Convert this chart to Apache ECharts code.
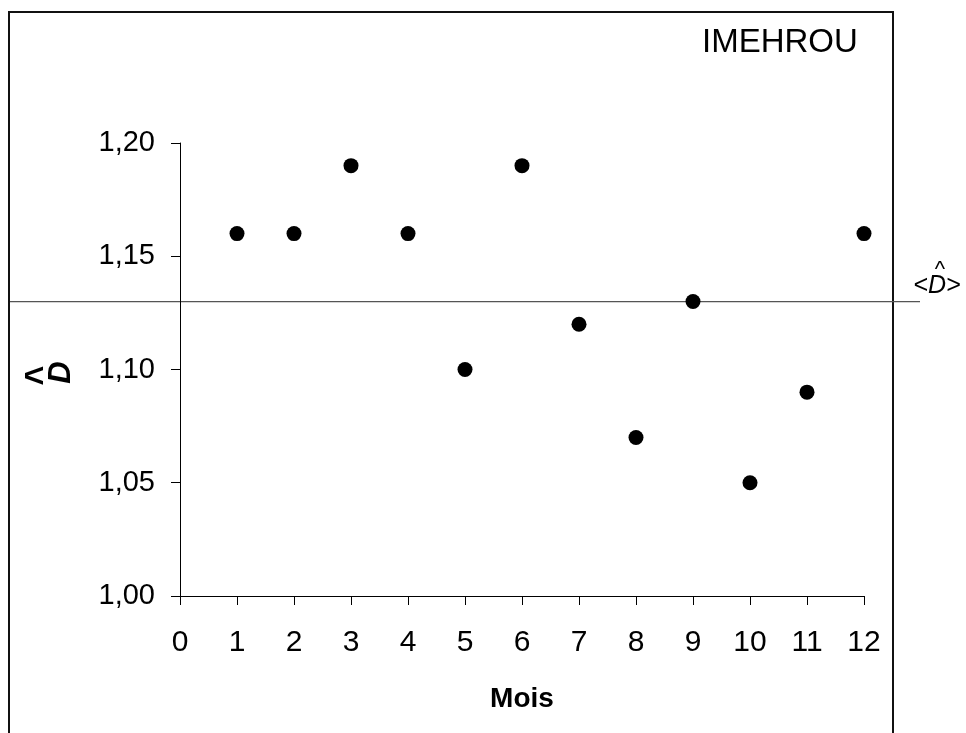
<!DOCTYPE html>
<html>
<head>
<meta charset="utf-8">
<script src="https://cdn.jsdelivr.net/npm/echarts@6/dist/echarts.min.js"></script>
<style>
  html, body { margin: 0; padding: 0; background: #fff; }
  #chart { width: 966px; height: 733px; }
</style>
</head>
<body>
<div id="chart"></div>
<script>
// monthly estimates of D-hat for station IMEHROU
const months = [1, 2, 3, 4, 5, 6, 7, 8, 9, 10, 11, 12]
const dValues = [1.16, 1.16, 1.19, 1.16, 1.10, 1.19, 1.12, 1.07, 1.13, 1.05, 1.09, 1.16]
const meanD = 1.13
const yTicks = [1.00, 1.05, 1.10, 1.15, 1.20]
const xTicks = [0, 12]

const FONT = '"Liberation Sans", Arial, sans-serif'
const chart = echarts.init(document.getElementById('chart'))

function commaLabel(v) {
  return Number(v).toFixed(2).replace('.', ',')
}

chart.setOption({
  animation: false,
  backgroundColor: '#fff',
  title: {
    text: 'IMEHROU',
    left: 697,
    top: 21,
    textStyle: { fontFamily: FONT, fontSize: 33, fontWeight: 'normal', color: '#000' }
  },
  grid: { left: 180, right: 102, top: 143, bottom: 137, containLabel: false },
  xAxis: {
    type: 'value',
    min: xTicks[0],
    max: xTicks[1],
    interval: 1,
    name: 'Mois',
    nameLocation: 'middle',
    nameGap: 89,
    nameTextStyle: { fontFamily: FONT, fontSize: 28, fontWeight: 'bold', color: '#000' },
    axisLine: { lineStyle: { color: '#000', width: 1 } },
    axisTick: { length: 9, lineStyle: { color: '#000' } },
    axisLabel: { fontFamily: FONT, fontSize: 30, color: '#000', margin: 32 },
    splitLine: { show: false }
  },
  yAxis: {
    type: 'value',
    min: yTicks[0],
    max: yTicks[yTicks.length - 1],
    interval: 0.05,
    axisLine: { show: true, lineStyle: { color: '#000', width: 1 } },
    axisTick: { show: true, length: 9, lineStyle: { color: '#000' } },
    axisLabel: { fontFamily: FONT, fontSize: 29, color: '#000', margin: 25, formatter: commaLabel },
    splitLine: { show: false }
  },
  series: [
    {
      type: 'scatter',
      data: months.map((m, i) => [m, dValues[i]]),
      symbol: 'circle',
      symbolSize: 15,
      itemStyle: { color: '#000', opacity: 1 },
      clip: false
    }
  ]
})

// mean line and labels placed through the axis scales
const yMean = chart.convertToPixel({ yAxisIndex: 0 }, meanD)
const yMid = chart.convertToPixel({ yAxisIndex: 0 }, 1.10)

chart.setOption({
  graphic: [
    {
      type: 'rect',
      shape: { x: 9, y: 12, width: 884, height: 760 },
      style: { fill: 'none', stroke: '#111', lineWidth: 2 },
      silent: true
    },
    {
      type: 'line',
      shape: { x1: 10, y1: yMean, x2: 920, y2: yMean },
      style: { stroke: '#555', lineWidth: 1.2 },
      silent: true
    },
    {
      type: 'text',
      x: 937, y: yMean - 16,
      style: { text: '<D>', fontFamily: FONT, fontSize: 25, fontStyle: 'italic', fill: '#000', align: 'center', verticalAlign: 'middle' }
    },
    {
      type: 'text',
      x: 940, y: yMean - 32,
      style: { text: '^', fontFamily: FONT, fontSize: 22, fill: '#000', align: 'center', verticalAlign: 'middle' }
    },
    {
      type: 'text',
      x: 61, y: yMid + 3,
      rotation: Math.PI / 2,
      style: { text: 'D', fontFamily: FONT, fontSize: 31, fontWeight: 'bold', fontStyle: 'italic', fill: '#000', align: 'center', verticalAlign: 'middle' }
    },
    {
      type: 'text',
      x: 42, y: yMid + 6,
      rotation: Math.PI / 2,
      scaleX: 0.85,
      style: { text: '^', fontFamily: FONT, fontSize: 40, fontWeight: 'bold', fill: '#000', align: 'center', verticalAlign: 'middle' }
    }
  ]
})
</script>
</body>
</html>
